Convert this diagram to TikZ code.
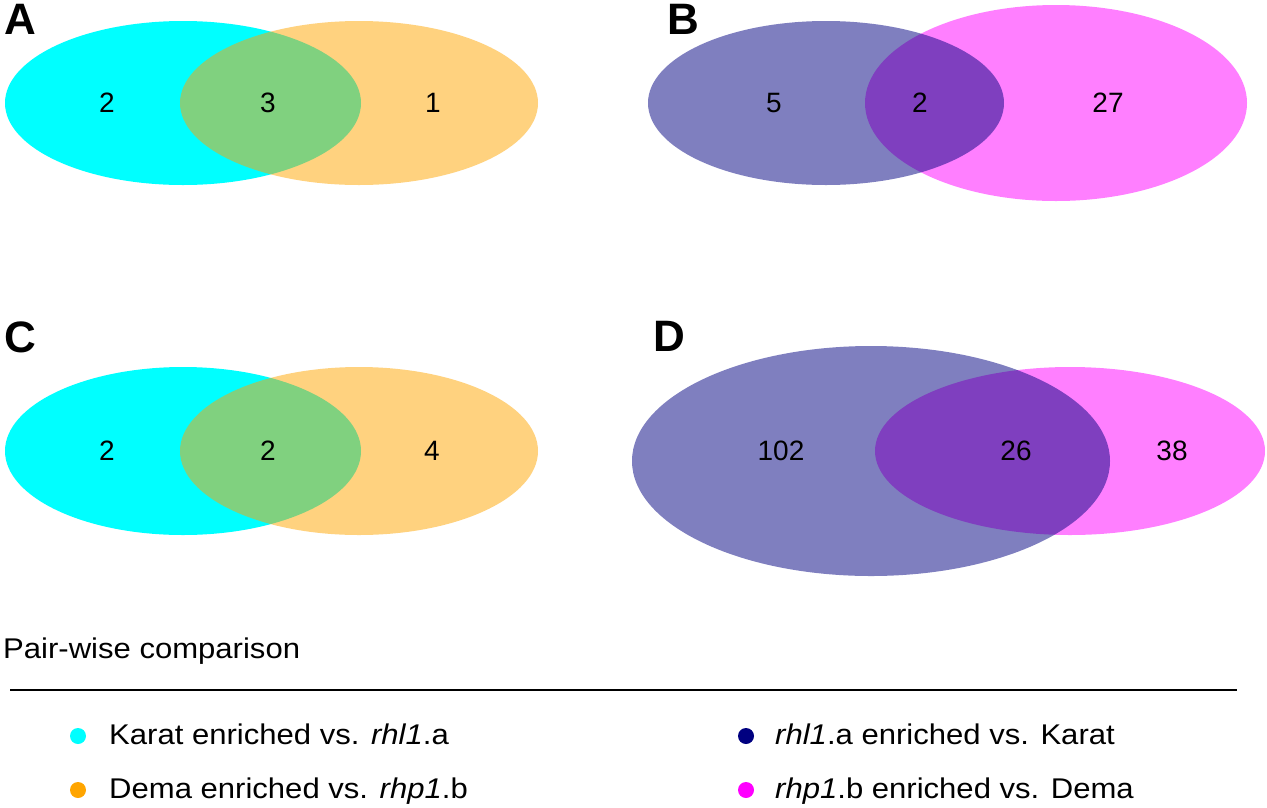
\documentclass[tikz,border=0pt]{standalone}
\usepackage{fontspec}
\setmainfont{Liberation Sans}
\newfontfamily\widesans[FakeStretch=1.09]{Liberation Sans}
\begin{document}
\begin{tikzpicture}[x=1pt,y=-1pt,
  num/.style={font=\fontsize{28}{32}\selectfont, inner sep=0pt},
  panel/.style={font=\bfseries\fontsize{44}{48}\selectfont, inner sep=0pt},
  legtext/.style={font=\widesans\fontsize{28.5}{32}\selectfont, anchor=base west, inner sep=0pt},
  legdot/.style={circle, inner sep=0pt, minimum size=16pt}]
\definecolor{vcyan}{RGB}{0,255,255}
\definecolor{vorange}{RGB}{255,165,0}
\definecolor{vnavy}{RGB}{0,0,128}
\definecolor{vmag}{RGB}{255,0,255}
\useasboundingbox (0,0) rectangle (1267,807);
% A
\fill[vcyan] (183,103) ellipse [x radius=178, y radius=82];
\fill[vorange, opacity=0.5] (359,103) ellipse [x radius=179, y radius=82];
\node[num] (a1) at (107,103) {2};
\node[num] (a2) at (268,103) {3};
\node[num] (a3) at (433,103) {1};
\node[panel] (pa) at (20,19) {A};
% B
\fill[vmag, opacity=0.5] (1056,103) ellipse [x radius=191, y radius=98];
\fill[vnavy, opacity=0.5] (826,103) ellipse [x radius=178, y radius=82];
\node[num] (b1) at (774,103) {5};
\node[num] (b2) at (920,103) {2};
\node[num] (b3) at (1108,103) {27};
\node[panel] (pb) at (683,19) {B};
% C
\fill[vcyan] (183,451) ellipse [x radius=178, y radius=84];
\fill[vorange, opacity=0.5] (359,451) ellipse [x radius=179, y radius=84];
\node[num] (c1) at (107,451) {2};
\node[num] (c2) at (268,451) {2};
\node[num] (c3) at (432,451) {4};
\node[panel] (pc) at (20,337) {C};
% D
\fill[vmag, opacity=0.5] (1070,451) ellipse [x radius=195, y radius=84];
\fill[vnavy, opacity=0.5] (871,461) ellipse [x radius=239, y radius=115];
\node[num] (d1) at (781,451) {102};
\node[num] (d2) at (1016,451) {26};
\node[num] (d3) at (1172,451) {38};
\node[panel] (pd) at (669,336) {D};
% legend
\node[legtext] (title) at (3,658) {Pair-wise comparison};
\coordinate (l1) at (10,690);
\coordinate (l2) at (1237,690);
\draw[line width=2pt] (l1) -- (l2);
\node[legdot, fill=vcyan] (k1) at (78,736) {};
\node[legtext] (t1) at (109,744) {Karat enriched vs. \textit{rhl1}.a};
\node[legdot, fill=vorange] (k2) at (78,790) {};
\node[legtext] (t2) at (109,798) {Dema enriched vs. \textit{rhp1}.b};
\node[legdot, fill=vnavy] (k3) at (746,736) {};
\node[legtext] (t3) at (775,744) {\textit{rhl1}.a enriched vs. Karat};
\node[legdot, fill=vmag] (k4) at (746,790) {};
\node[legtext] (t4) at (775,798) {\textit{rhp1}.b enriched vs. Dema};
\end{tikzpicture}
\end{document}
